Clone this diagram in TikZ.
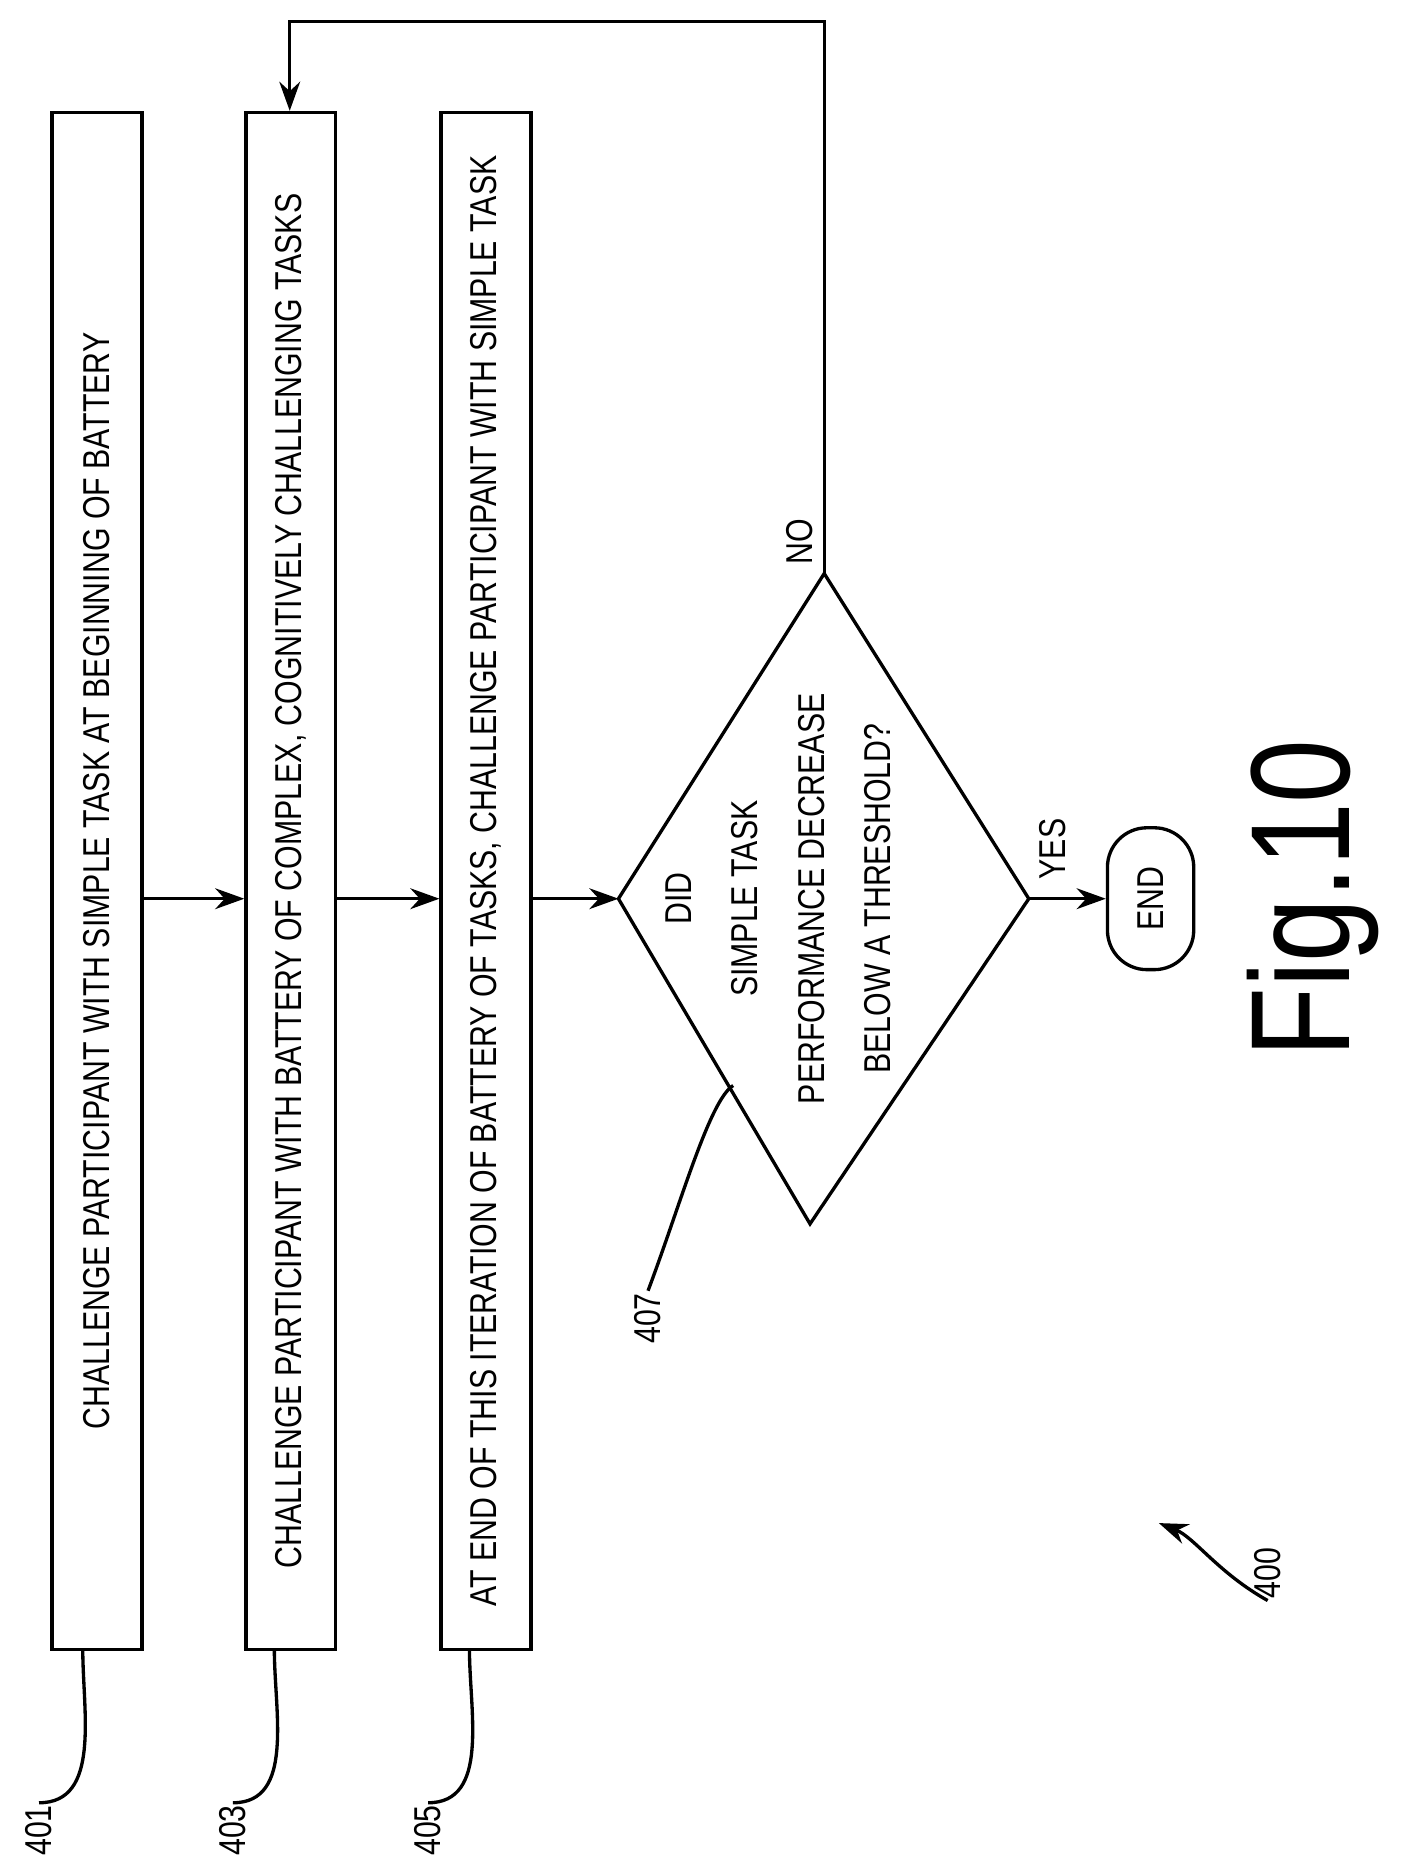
\documentclass[tikz,border=0pt]{standalone}
\usepackage{fontspec}
\setmainfont{Liberation Sans}[FakeStretch=0.81]
\usetikzlibrary{arrows.meta,shapes.geometric}
\begin{document}
\begin{tikzpicture}[x=0.02cm,y=-0.02cm,
  box/.style={draw,line width=1.6pt,minimum width=26cm,minimum height=1.52cm,rotate=90,inner sep=0pt,font=\fontsize{18}{20}\selectfont},
  ln/.style={line width=1.6pt},
  arr/.style={ln,-{Stealth[length=14pt,width=10pt]}},
  lbl/.style={rotate=90,font=\fontsize{18}{20}\selectfont,inner sep=1pt}]
\useasboundingbox (0,0) rectangle (1187,1578);
\node[box] (b401) at (82,745) {CHALLENGE PARTICIPANT WITH SIMPLE TASK AT BEGINNING OF BATTERY};
\node[box] (b403) at (246,745) {CHALLENGE PARTICIPANT WITH BATTERY OF COMPLEX, COGNITIVELY CHALLENGING TASKS};
\node[box] (b405) at (411,745) {AT END OF THIS ITERATION OF BATTERY OF TASKS, CHALLENGE PARTICIPANT WITH SIMPLE TASK};
\coordinate (dl) at (523,760); \coordinate (dr) at (870,760);
\coordinate (dt) at (697,485); \coordinate (db) at (685,1035);
\draw[ln] (dl)--(dt)--(dr)--(db)--cycle;
\node[lbl,align=center,font=\fontsize{18}{32}\selectfont] (dtext) at (658,760) {DID\\SIMPLE TASK\\PERFORMANCE DECREASE\\BELOW A THRESHOLD?};
\node[draw,ln,rounded corners=19pt,minimum width=2.4cm,minimum height=1.46cm,rotate=90,font=\fontsize{18}{20}\selectfont] (end) at (973,760) {END};
\draw[arr] (b401.south |- 0,760) -- (b403.north |- 0,760);
\draw[arr] (b403.south |- 0,760) -- (b405.north |- 0,760);
\draw[arr] (b405.south |- 0,760) -- (dl);
\draw[arr] (dr) -- (end.north);
\coordinate (c1) at (697,18); \coordinate (c2) at (245,18);
\draw[arr] (dt) -- (c1) -- (c2) -- (c2 |- b403.east);
\node[lbl] (no) at (676,458) {NO};
\node[lbl] (yes) at (890,718) {YES};
\node[lbl] (l401) at (33,1548) {401};
\node[lbl] (l403) at (197,1548) {403};
\node[lbl] (l405) at (362,1548) {405};
\node[lbl] (l407) at (548,1115) {407};
\node[lbl] (l400) at (1072,1330) {400};
\draw[ln] (l401.east) to[out=0,in=-90] (70,1395);
\draw[ln] (l403.east) to[out=0,in=-90] (232,1395);
\draw[ln] (l405.east) to[out=0,in=-90] (397,1395);
\draw[ln] (l407.east) .. controls (575,1020) and (600,930) .. (620,918);
\draw[arr] (l400.west) .. controls (1030,1330) and (1010,1300) .. (980,1288);
\node[rotate=90,font=\fontsize{68}{70}\selectfont] (fig) at (1110,760) {Fig.10};
\end{tikzpicture}
\end{document}
